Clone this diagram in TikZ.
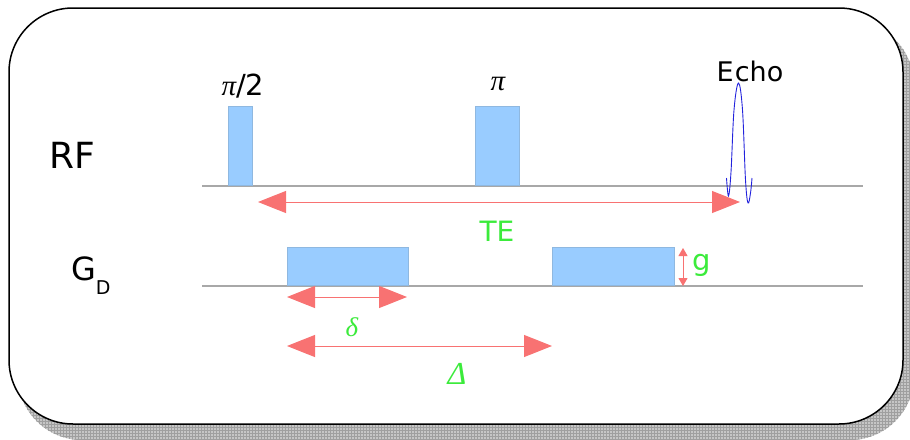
\documentclass[tikz,border=0pt]{standalone}
\usepackage{fontspec}
\setmainfont{DejaVu Sans}
\newfontfamily\gk{Liberation Serif}
\usetikzlibrary{arrows.meta,patterns}
\definecolor{pulseblue}{HTML}{99CCFF}
\definecolor{pulseedge}{HTML}{8FB8E0}
\definecolor{baseg}{HTML}{A8A8A8}
\definecolor{salmon}{HTML}{F87272}
\definecolor{lgreen}{HTML}{3BEB3B}
\definecolor{echoblue}{HTML}{2222DD}
\tikzset{
  pulse/.style={fill=pulseblue,draw=pulseedge,line width=0.6pt},
  baseline/.style={draw=baseg,line width=1.3pt},
  dimbig/.style={draw=salmon,line width=1pt,{Triangle[length=28pt,width=22pt]}-{Triangle[length=28pt,width=22pt]}},
  dimsmall/.style={draw=salmon,line width=1pt,{Triangle[length=8pt,width=9pt]}-{Triangle[length=8pt,width=9pt]}},
  lab/.style={inner sep=0pt,text=black},
  glab/.style={inner sep=0pt,text=lgreen},
}
\begin{document}
\begin{tikzpicture}[x=1pt,y=-1pt]
\useasboundingbox (0,0) rectangle (910,439);
% shadow and frame
\fill[gray!45,rounded corners=64pt] (18,21) rectangle (914,440);
\fill[pattern=grid,pattern color=gray!75,rounded corners=64pt] (18,21) rectangle (914,440);
\draw[fill=white,line width=1.5pt,rounded corners=64pt] (9,8) rectangle (903,424);
% row labels
\node[lab,font=\fontsize{36}{36}\selectfont] (rf) at (72,155) {RF};
\node[lab,font=\fontsize{32}{32}\selectfont,anchor=base west] (gd) at (71,280) {G\raisebox{-14pt}{\fontsize{19}{19}\selectfont D}};
% baselines
\coordinate (rfL) at (202,186); \coordinate (rfR) at (863,186);
\coordinate (gdL) at (202,286); \coordinate (gdR) at (863,286);
\draw[baseline] (rfL) -- (rfR);
\draw[baseline] (gdL) -- (gdR);
% RF pulses
\draw[pulse] (228,106) rectangle (252,185);
\draw[pulse] (475,106) rectangle (519,185);
\node[lab,font=\fontsize{29}{29}\selectfont] (p2) at (243,86) {{\gk\itshape π}/2};
\node[lab,font=\fontsize{29}{29}\selectfont] (p1) at (498,84) {\gk\itshape π};
% echo
\draw[echoblue,line width=0.9pt] plot[smooth,tension=0.6] coordinates {(726.5,178) (728.5,196) (731,172) (734,110) (738.5,83) (742.5,110) (745.5,180) (748,203) (750.5,193) (752,178)};
\node[lab,font=\fontsize{27}{27}\selectfont] (echo) at (750,71) {E\kern1pt cho};
% gradient pulses
\draw[pulse] (287,247) rectangle (408,285);
\draw[pulse] (552,247) rectangle (674,285);
% dimension arrows
\coordinate (teL) at (258,202); \coordinate (teR) at (740,202);
\draw[dimbig] (teL) -- (teR);
\node[glab,font=\fontsize{28}{28}\selectfont] (te) at (497,231) {TE};
\coordinate (dL) at (287,297); \coordinate (dR) at (407,297);
\draw[dimbig] (dL) -- (dR);
\node[glab,font=\fontsize{27}{27}\gk\itshape] (delta) at (352,327) {δ};
\coordinate (DL) at (287,346); \coordinate (DR) at (552,346);
\draw[dimbig] (DL) -- (DR);
\node[glab,font=\fontsize{32}{32}\gk\itshape] (Delta) at (457,374) {Δ};
\coordinate (gT) at (683,248); \coordinate (gB) at (683,286);
\draw[dimsmall] (gT) -- (gB);
\node[glab,font=\fontsize{29}{29}\selectfont] (g) at (702,265) {g};
\end{tikzpicture}
\end{document}
